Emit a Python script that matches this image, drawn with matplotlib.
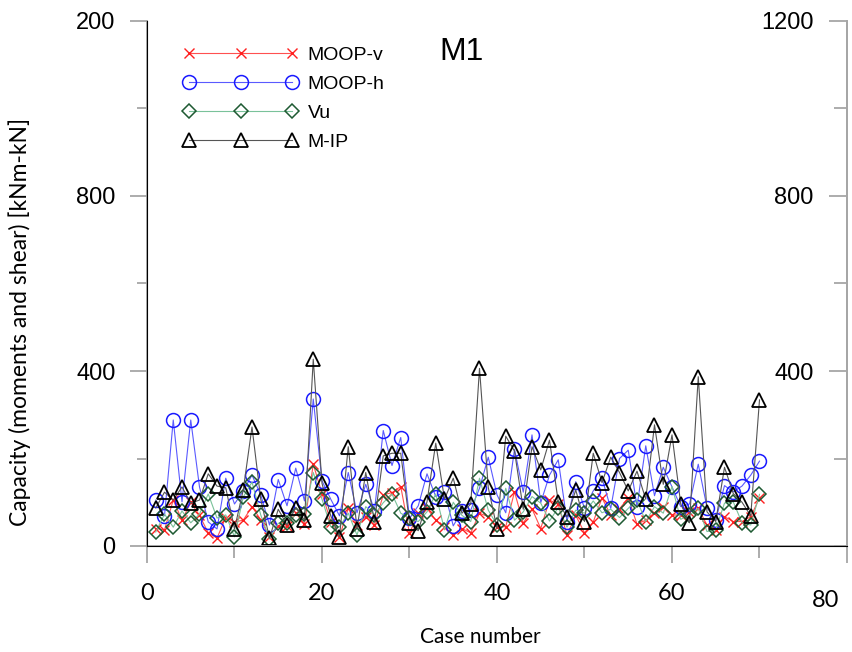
# -*- coding: utf-8 -*-
# capacity of the 70 cases, M1 model

import numpy as np
import matplotlib
matplotlib.use('Agg')
import matplotlib.pyplot as plt
from matplotlib.ticker import MultipleLocator

# data
cases = np.arange(1, 71)

moop_v = [40, 37, 105, 59, 100, 70, 30, 18, 65, 55, 59, 90, 60, 20, 45,
          45, 75, 50, 187, 120, 56, 21, 86, 48, 67, 48, 117, 122, 136, 29,
          75, 86, 59, 44, 25, 40, 30, 75, 67, 44, 44, 124, 52, 85, 40,
          105, 95, 25, 70, 30, 55, 110, 70, 85, 110, 50, 59, 76, 90, 70,
          72, 78, 86, 48, 37, 67, 56, 56, 67, 110]

moop_h = [105, 69, 288, 101, 288, 135, 55, 39, 155, 96, 126, 162, 117, 48,
          152, 92, 178, 103, 336, 149, 107, 69, 168, 76, 141, 81, 264, 184,
          248, 63, 92, 165, 113, 124, 46, 81, 82, 132, 203, 117, 76, 221,
          123, 254, 99, 162, 197, 56, 147, 86, 126, 155, 86, 200, 219, 90,
          229, 115, 180, 135, 90, 96, 187, 88, 59, 138, 124, 137, 162, 194]

vu = [32, 73, 43, 80, 53, 73, 119, 64, 71, 21, 112, 146, 71, 16, 52, 52,
      72, 73, 168, 107, 44, 44, 75, 25, 90, 72, 99, 119, 75, 63, 56, 78,
      119, 37, 100, 70, 56, 155, 82, 48, 132, 59, 78, 113, 98, 57, 88, 43,
      82, 75, 103, 76, 84, 65, 86, 105, 56, 90, 75, 136, 61, 71, 86, 33,
      37, 98, 101, 53, 48, 118]

m_ip = [87, 123, 105, 135, 98, 105, 165, 137, 133, 39, 128, 272, 107, 18,
        84, 48, 88, 59, 427, 143, 69, 21, 227, 40, 168, 56, 206, 212, 212,
        53, 35, 101, 235, 107, 155, 75, 96, 406, 134, 40, 251, 217, 84, 227,
        174, 242, 101, 66, 128, 56, 212, 145, 203, 168, 126, 171, 107, 277,
        141, 254, 96, 53, 387, 78, 56, 180, 120, 100, 69, 334]

left_ticks = [0, 400, 800, 1200]
left_labels = ['0', '400', '800', '200']
right_ticks = [400, 800, 1200]
right_labels = ['400', '800', '1200']
x_ticks = [0, 20, 40, 60, 80]
x_labels = ['0', '20', '40', '60', '']

spine_col = '#a6a6a6'

fig = plt.figure(figsize=(8.53, 6.52), dpi=100)
ax = fig.add_axes([147 / 853, 1 - 546 / 652, 700 / 853, 525 / 652])

# the four series
ax.plot(cases, moop_v, color='#ff5050', lw=0.8, marker='x', ms=7,
        mew=1.0, mec='#ff2020', label='MOOP-v')
ax.plot(cases, moop_h, color='#5a5aff', lw=0.8, marker='o', ms=10,
        mfc='none', mec='#1a1aff', mew=1.1, label='MOOP-h')
ax.plot(cases, vu, color='#7ac29a', lw=0.8, marker='D', ms=7,
        mfc='none', mec='#1e5a32', mew=1.1, label='Vu')
ax.plot(cases, m_ip, color='#555555', lw=0.8, marker='^', ms=10.5,
        mfc='none', mec='black', mew=1.3, label='M-IP')

ax.set_xlim(0, 80)
ax.set_ylim(0, 1200)

# spines
ax.spines['top'].set_visible(False)
for s in ['left', 'right', 'bottom']:
    ax.spines[s].set_color(spine_col)
    ax.spines[s].set_linewidth(1.3)

# x axis (Calibri look)
ax.set_xticks(x_ticks)
ax.set_xticklabels(x_labels, family='Lato', fontsize=17)
ax.xaxis.set_minor_locator(MultipleLocator(10))
ax.tick_params(axis='x', which='major', direction='out', length=12.5,
               width=1.3, color=spine_col, pad=14)
ax.tick_params(axis='x', which='minor', direction='out', length=8.5,
               width=1.3, color=spine_col)
# the last label sits a bit lower and to the left in the original
ax.text(0.97, -0.083, '80', transform=ax.transAxes, family='Lato',
        fontsize=17, ha='center', va='top')

# left y axis
ax.set_yticks(left_ticks)
ax.set_yticklabels(left_labels, family='Liberation Sans', fontsize=17)
ax.yaxis.set_minor_locator(MultipleLocator(200))
ax.tick_params(axis='y', which='major', direction='out', length=12.5,
               width=1.3, color=spine_col, pad=10)
ax.tick_params(axis='y', which='minor', direction='out', length=7.5,
               width=1.3, color=spine_col)

# right y axis, ticks and labels inside
ax2 = ax.twinx()
ax2.set_ylim(0, 1200)
ax2.spines['top'].set_visible(False)
ax2.spines['right'].set_color(spine_col)
ax2.spines['right'].set_linewidth(1.3)
ax2.set_yticks(right_ticks)
ax2.set_yticklabels(right_labels, family='Liberation Sans', fontsize=17)
ax2.yaxis.set_minor_locator(MultipleLocator(200))
ax2.tick_params(axis='y', which='major', direction='in', length=13,
                width=1.3, color=spine_col, pad=-24)
ax2.tick_params(axis='y', which='minor', direction='in', length=9.5,
                width=1.3, color=spine_col)
for lab in ax2.get_yticklabels():
    lab.set_horizontalalignment('right')

# axis titles
fig.text(20 / 853, 1 - 322 / 652, 'Capacity (moments and shear) [kNm-kN]',
         family='Lato', fontsize=16.5, rotation=90, ha='center', va='center')
fig.text(480 / 853, 1 - 637 / 652, 'Case number', family='Lato',
         fontsize=15, ha='center', va='center')

ax.text(462 / 853, 1 - 52 / 652, 'M1', transform=fig.transFigure,
        family='Liberation Sans', fontsize=23, ha='center', va='center')

leg = ax.legend(loc='upper left', bbox_to_anchor=(0.027, 0.985),
                numpoints=3, handlelength=5.9, frameon=False,
                prop={'family': 'Liberation Sans', 'size': 14},
                labelspacing=0.58, handletextpad=0.5)

fig.savefig('out.png', dpi=100)
